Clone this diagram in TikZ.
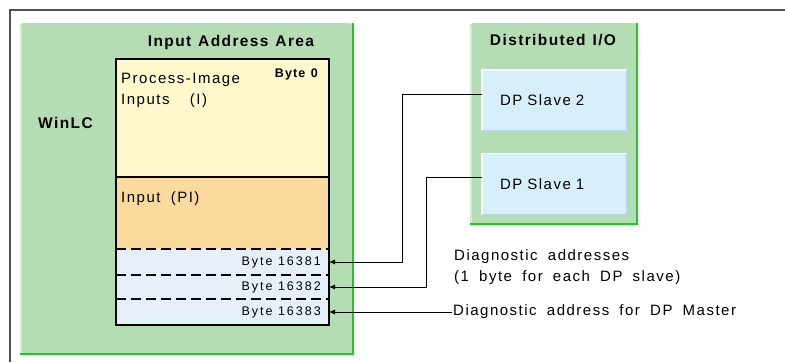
\documentclass[tikz,border=0pt]{standalone}
\usepackage{fontspec}
\setmainfont{Liberation Sans}
\newfontfamily\lab[LetterSpace=10,WordSpace=1.8]{Liberation Sans}
\newfontfamily\ttl[LetterSpace=9,WordSpace=1.2]{Liberation Sans}
\newfontfamily\byt[LetterSpace=16]{Liberation Sans}
\usetikzlibrary{arrows.meta}
\definecolor{grnfill}{HTML}{B4DDB4}
\definecolor{grnlite}{HTML}{D2ECD2}
\definecolor{grnline}{HTML}{22C822}
\definecolor{yel}{HTML}{FFF8CC}
\definecolor{org}{HTML}{FCDA9E}
\definecolor{bytebg}{HTML}{E6F0FC}
\definecolor{slv}{HTML}{D6EFFB}
\definecolor{slvdk}{HTML}{B4D4F4}
\definecolor{frm}{HTML}{505050}
\tikzset{
  group/.style={fill=grnfill, rounded corners=3pt, inner sep=0, outer sep=0, anchor=north west},
  grnedge/.style={draw=grnline, line width=2pt},
  grnhi/.style={draw=grnlite, line width=2pt},
  cell/.style={inner sep=0, outer sep=0, anchor=north west, minimum width=213pt},
  slave/.style={fill=slv, inner sep=0, outer sep=0, minimum width=145pt, minimum height=61pt,
    text width=109pt, align=left, font=\lab\fontsize{15}{17}\selectfont},
  title/.style={inner sep=0, font=\ttl\bfseries\fontsize{15.5}{17}\selectfont},
  txt/.style={inner sep=0, font=\lab\fontsize{15}{17}\selectfont},
  bytelab/.style={inner sep=0, font=\byt\fontsize{12.5}{14}\selectfont},
  dashsep/.style={line width=1.3pt, dash pattern=on 10pt off 5pt},
  conn/.style={line width=0.9pt, -{Latex[length=6pt,width=5pt]}},
}
\begin{document}
\begin{tikzpicture}[x=1pt,y=-1pt]
\useasboundingbox (0,0) rectangle (785,362);
\fill[white] (0,0) rectangle (785,362);
% outer frame
\draw[frm, line width=2pt] (10,362) -- (10,10) -- (785,10);
% WinLC group
\node[group, minimum width=333pt, minimum height=331pt] (winlc) at (20,23) {};
\draw[grnhi] ([xshift=1pt]winlc.south west) -- ([xshift=1pt,yshift=-3pt]winlc.north west);
\draw[grnedge] (winlc.north east) -- (winlc.south east) -- (winlc.south west);
% Distributed I/O group
\node[group, minimum width=167pt, minimum height=201pt] (dio) at (470,23) {};
\draw[grnhi] ([xshift=1pt]dio.south west) -- ([xshift=1pt,yshift=-3pt]dio.north west);
\draw[grnedge] (dio.north east) -- (dio.south east) -- (dio.south west);
% memory cells
\node[cell, fill=yel, minimum height=118pt] (pii) at (116,59) {};
\node[cell, fill=org, minimum height=72pt] (pi) at (116,177) {};
\node[cell, fill=bytebg, minimum height=26pt] (b1) at (116,249) {};
\node[cell, fill=bytebg, minimum height=24pt] (b2) at (116,275) {};
\node[cell, fill=bytebg, minimum height=26pt] (b3) at (116,299) {};
\draw[line width=1.3pt] (pii.south west) -- (pii.south east);
\draw[dashsep] (b1.north west) -- (b1.north east);
\draw[dashsep] (b2.north west) -- (b2.north east);
\draw[dashsep] (b3.north west) -- (b3.north east);
\draw[line width=1.5pt] (pii.north west) rectangle (b3.south east);
% slaves
\node[slave] (s2) at (554.5,100.5) {DP Slave 2};
\node[slave] (s1) at (554.5,184) {DP Slave 1};
\foreach \s in {s1,s2}{
  \draw[white, line width=1.5pt] (\s.south west) -- (\s.north west) -- (\s.north east);
  \draw[slvdk, line width=1.8pt] (\s.north east) -- (\s.south east) -- (\s.south west);
}
% texts
\node[title, anchor=base] (tia) at (231,46) {Input Address Area};
\node[title, anchor=base] (tdio) at (553,45) {Distributed I/O};
\node[title, anchor=base west] (twin) at (38,128) {WinLC};
\node[txt, anchor=base west] (tpi) at (121,83) {Process-Image};
\node[txt, anchor=base west] (tin) at (121,104) {Inputs\ \ (I)};
\node[txt, anchor=base west] (tpin) at (121,202) {Input (PI)};
\node[inner sep=0, font=\ttl\bfseries\fontsize{12.5}{14}\selectfont, anchor=base east] (tb0) at (318,77) {Byte 0};
\node[bytelab, anchor=east] (l1) at ([xshift=-8pt]b1.east) {Byte 16381};
\node[bytelab, anchor=east] (l2) at ([xshift=-8pt]b2.east) {Byte 16382};
\node[bytelab, anchor=east] (l3) at ([xshift=-8pt]b3.east) {Byte 16383};
\node[txt, anchor=base west] (d1) at (454,260) {Diagnostic addresses};
\node[txt, anchor=base west] (d2) at (454,281) {(1 byte for each DP slave)};
\node[txt, anchor=west, inner sep=1pt] (dm) at (452,312) {Diagnostic address for DP Master};
% connectors
\draw[conn] ([yshift=6.5pt]s2.west) -- ++(-80,0) |- (b1.east);
\draw[conn] ([yshift=7pt]s1.west) -- ++(-56,0) |- (b2.east);
\draw[conn] (dm.west) -- (b3.east);
\end{tikzpicture}
\end{document}
